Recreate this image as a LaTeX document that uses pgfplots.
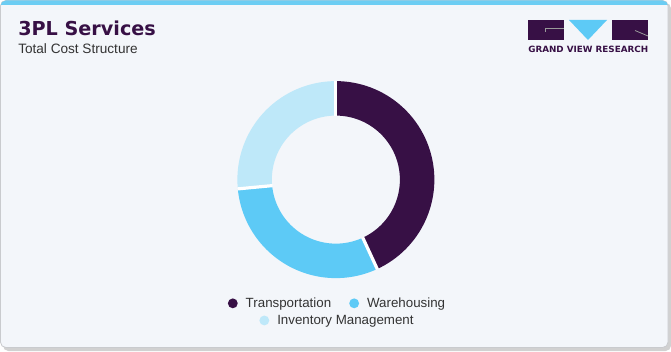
\documentclass[border=0pt]{standalone}
\usepackage{pgfplots}
\pgfplotsset{compat=1.18}
\usepackage{fontspec}
\setmainfont{Liberation Sans}
\newfontfamily\titlefont{DejaVu Sans}
\definecolor{bg}{HTML}{F3F6FA}
\definecolor{topbar}{HTML}{6CCDF3}
\definecolor{frame}{HTML}{C9CBCE}
\definecolor{cT}{HTML}{371045}
\definecolor{cW}{HTML}{5DCAF6}
\definecolor{cI}{HTML}{BEE8F9}
\definecolor{txt}{HTML}{333333}
\definecolor{logogray}{HTML}{9A9A9A}
% shares in percent
\def\vT{43.1}
\def\vW{30.4}
\def\vI{26.5}
\pgfmathsetmacro{\aA}{0}
\pgfmathsetmacro{\aB}{3.6*\vT}
\pgfmathsetmacro{\aC}{3.6*(\vT+\vW)}
\pgfmathsetmacro{\aD}{3.6*(\vT+\vW+\vI)}
\newcommand{\donutwedge}[3]{%
\addplot[fill=#3, draw=none, forget plot, samples at={0,...,121}, variable=\t]
 ({ifthenelse(\t<60.5,1,0.65)*cos(90-ifthenelse(\t<60.5,#1+(#2-#1)*\t/60,#1+(#2-#1)*(121-\t)/60))},
  {ifthenelse(\t<60.5,1,0.65)*sin(90-ifthenelse(\t<60.5,#1+(#2-#1)*\t/60,#1+(#2-#1)*(121-\t)/60))});}
\newcommand{\donutgap}[1]{%
\addplot[white, line width=2.4pt, forget plot, samples at={0.645,1.003}, variable=\t]
 ({\t*cos(90-#1)},{\t*sin(90-#1)});}
\begin{document}
\begin{tikzpicture}[x=0.75pt,y=0.75pt]
\useasboundingbox (0,0) rectangle (671,351);
% card
\fill[black!18, rounded corners=4pt] (3,0) rectangle (671,348);
\fill[bg, draw=frame, line width=0.6pt, rounded corners=4pt] (0.5,3.5) rectangle (668,350.5);
\begin{scope}
\clip[rounded corners=4pt] (0.5,3.5) rectangle (668,350.5);
\fill[topbar] (0,346) rectangle (671,351);
\end{scope}
% titles
\node[anchor=base west, inner sep=0pt, text=cT] at (18,315)
  {\titlefont\bfseries\fontsize{14.4pt}{16pt}\selectfont 3PL Services};
\node[anchor=base west, inner sep=0pt, text=txt] at (18,297.5)
  {\fontsize{10.2pt}{12pt}\selectfont Total Cost Structure};
% logo
\fill[cT] (528,311) rectangle (564,331);
\draw[logogray, line width=0.6pt] (545,323) -- (564,323);
\draw[logogray, line width=0.6pt] (545,323) -- (545,319);
\fill[cW] (569,331) -- (607,331) -- (588,311) -- cycle;
\fill[cT] (612,311) rectangle (648,331);
\draw[logogray, line width=0.6pt] (635,320.5) -- (648,315);
\node[anchor=base west, inner sep=0pt, text=cT] at (528,298)
  {\resizebox{90pt}{4.8pt}{\titlefont\bfseries GRAND VIEW RESEARCH}};
% donut
\begin{axis}[at={(341,174)}, anchor=origin, hide axis, scale only axis,
  width=147.75pt, height=147.75pt, xmin=-1, xmax=1, ymin=-1, ymax=1, clip=false,
  legend columns=2,
  legend image code/.code={\fill[#1] (0pt,0pt) circle (3.7pt);},
  legend style={at={(0.51,-0.128)}, anchor=center, draw=none, fill=none,
    font=\fontsize{10pt}{12pt}\selectfont, text=txt,
    /tikz/every odd column/.append style={column sep=4pt},
    /tikz/every even column/.append style={column sep=11.5pt}}]
\donutwedge{\aA}{\aB}{cT}
\donutwedge{\aB}{\aC}{cW}
\donutwedge{\aC}{\aD}{cI}
\donutgap{\aA}
\donutgap{\aB}
\donutgap{\aC}
\addlegendimage{fill=cT, draw=none}
\addlegendentry{Transportation}
\addlegendimage{fill=cW, draw=none}
\addlegendentry{Warehousing}
\end{axis}
\begin{axis}[at={(341,174)}, anchor=origin, hide axis, scale only axis,
  width=147.75pt, height=147.75pt, xmin=-1, xmax=1, ymin=-1, ymax=1, clip=false,
  legend image code/.code={\fill[#1] (0pt,0pt) circle (3.7pt);},
  legend style={at={(0.51,-0.215)}, anchor=center, draw=none, fill=none,
    font=\fontsize{10pt}{12pt}\selectfont, text=txt,
    /tikz/every odd column/.append style={column sep=4pt}}]
\addlegendimage{fill=cI, draw=none}
\addlegendentry{Inventory Management}
\end{axis}
\end{tikzpicture}
\end{document}
